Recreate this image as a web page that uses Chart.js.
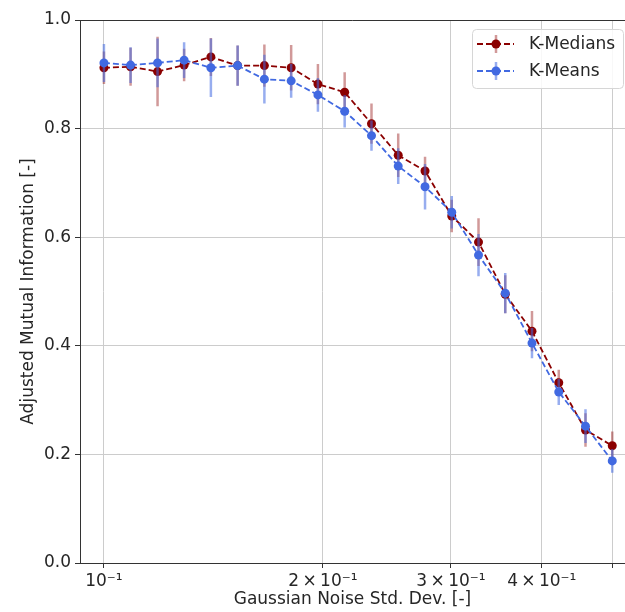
<!DOCTYPE html>
<html>
<head>
<meta charset="utf-8">
<script src="https://cdn.jsdelivr.net/npm/chart.js@4.4.1/dist/chart.umd.min.js"></script>
<style>
  html, body { margin: 0; padding: 0; background: #fff; overflow: hidden; }
</style>
</head>
<body>
<canvas id="amiChart" width="625" height="612"></canvas>
<script>
const noiseStd = [0.1, 0.1088, 0.1185, 0.1289, 0.1403, 0.1527, 0.1662, 0.1809, 0.1969, 0.2143,
                  0.2333, 0.2539, 0.2764, 0.3008, 0.3274, 0.3563, 0.3878, 0.4221, 0.4594, 0.5];

const medianAmi = [0.912, 0.914, 0.905, 0.917, 0.932, 0.916, 0.916, 0.912, 0.882, 0.867,
                   0.809, 0.751, 0.722, 0.639, 0.591, 0.495, 0.427, 0.332, 0.245, 0.216];
const medianErr = [0.03, 0.035, 0.064, 0.03, 0.035, 0.037, 0.039, 0.042, 0.037, 0.037,
                   0.037, 0.04, 0.026, 0.03, 0.044, 0.035, 0.037, 0.024, 0.031, 0.026];

const meansAmi = [0.921, 0.917, 0.921, 0.926, 0.912, 0.916, 0.891, 0.888, 0.862, 0.832,
                  0.787, 0.731, 0.693, 0.646, 0.567, 0.497, 0.405, 0.315, 0.252, 0.188];
const meansErr = [0.035, 0.033, 0.045, 0.033, 0.054, 0.037, 0.045, 0.031, 0.031, 0.03,
                  0.028, 0.033, 0.042, 0.03, 0.039, 0.037, 0.028, 0.024, 0.031, 0.022];

const xTickValues = [0.1, 0.2, 0.3, 0.4, 0.5];
const xTickLabels = ['10⁻¹', '2\u2009×\u200910⁻¹', '3\u2009×\u200910⁻¹', '4\u2009×\u200910⁻¹', ''];

const RED = '#8b0000';
const BLUE = '#4169e1';

Chart.defaults.font.family = "'DejaVu Sans', sans-serif";
Chart.defaults.font.size = 17;
Chart.defaults.color = '#262626';

// error bars drawn just before their own series, like matplotlib's errorbar()
const errorBars = {
  id: 'errorBars',
  beforeDatasetDraw(chart, args) {
    const ds = chart.data.datasets[args.index];
    if (!ds.errors) return;
    const { ctx, chartArea, scales: { x, y } } = chart;
    ctx.save();
    ctx.beginPath();
    ctx.rect(chartArea.left, chartArea.top, chartArea.right - chartArea.left, chartArea.bottom - chartArea.top);
    ctx.clip();
    ctx.strokeStyle = ds.errorColor;
    ctx.lineWidth = 2.5;
    ctx.beginPath();
    ds.data.forEach((p, i) => {
      const px = x.getPixelForValue(p.x);
      ctx.moveTo(px, y.getPixelForValue(p.y - ds.errors[i]));
      ctx.lineTo(px, y.getPixelForValue(p.y + ds.errors[i]));
    });
    ctx.stroke();
    ctx.restore();
  }
};

const frameAndLegend = {
  id: 'frameAndLegend',
  afterDraw(chart) {
    const { ctx, chartArea } = chart;
    ctx.save();
    // top spine (right spine falls outside the picture)
    ctx.strokeStyle = '#333';
    ctx.lineWidth = 1;
    ctx.beginPath();
    ctx.moveTo(chartArea.left, chartArea.top + 0.5);
    ctx.lineTo(chartArea.right, chartArea.top + 0.5);
    ctx.stroke();

    // legend box
    const bx = 472, by = 29, bw = 151, bh = 59, r = 4;
    ctx.beginPath();
    ctx.roundRect(bx + 0.5, by + 0.5, bw, bh, r);
    ctx.fillStyle = 'rgba(255,255,255,0.85)';
    ctx.fill();
    ctx.strokeStyle = '#d6d6d6';
    ctx.stroke();

    const entries = [
      { label: 'K-Medians', color: RED, err: 'rgba(139,0,0,0.4)', y: 44 },
      { label: 'K-Means', color: BLUE, err: 'rgba(65,105,225,0.55)', y: 71 }
    ];
    entries.forEach(e => {
      ctx.strokeStyle = e.err;
      ctx.lineWidth = 2.5;
      ctx.setLineDash([]);
      ctx.beginPath();
      ctx.moveTo(496, e.y - 9);
      ctx.lineTo(496, e.y + 9);
      ctx.stroke();
      ctx.strokeStyle = e.color;
      ctx.lineWidth = 1.8;
      ctx.setLineDash([6, 3]);
      ctx.beginPath();
      ctx.moveTo(477, e.y);
      ctx.lineTo(514, e.y);
      ctx.stroke();
      ctx.setLineDash([]);
      ctx.fillStyle = e.color;
      ctx.beginPath();
      ctx.arc(496, e.y, 4.5, 0, Math.PI * 2);
      ctx.fill();
      ctx.fillStyle = '#262626';
      ctx.font = "17px 'DejaVu Sans', sans-serif";
      ctx.textBaseline = 'middle';
      ctx.fillText(e.label, 529, e.y + 1);
    });
    ctx.restore();
  }
};

const ctx = document.getElementById('amiChart').getContext('2d');

new Chart(ctx, {
  type: 'line',
  data: {
    datasets: [
      {
        label: 'K-Medians',
        data: noiseStd.map((x, i) => ({ x: x, y: medianAmi[i] })),
        errors: medianErr,
        errorColor: 'rgba(139,0,0,0.4)',
        borderColor: RED,
        backgroundColor: RED,
        borderWidth: 1.8,
        borderDash: [6, 3],
        pointRadius: 4.5,
        pointBorderWidth: 0,
        pointBackgroundColor: RED,
        tension: 0,
        fill: false,
        order: 1
      },
      {
        label: 'K-Means',
        data: noiseStd.map((x, i) => ({ x: x, y: meansAmi[i] })),
        errors: meansErr,
        errorColor: 'rgba(65,105,225,0.55)',
        borderColor: BLUE,
        backgroundColor: BLUE,
        borderWidth: 1.8,
        borderDash: [6, 3],
        pointRadius: 4.5,
        pointBorderWidth: 0,
        pointBackgroundColor: BLUE,
        tension: 0,
        fill: false,
        order: 0
      }
    ]
  },
  options: {
    responsive: false,
    animation: false,
    devicePixelRatio: 1,
    layout: { autoPadding: false, padding: { top: 20, right: 0, left: 0, bottom: 0 } },
    plugins: {
      legend: { display: false },
      tooltip: { enabled: false }
    },
    scales: {
      x: {
        type: 'logarithmic',
        min: 0.0927,
        max: 0.5206,
        afterFit: s => { s.height = 49; s.paddingRight = 0; s.paddingLeft = 0; },
        afterBuildTicks: s => { s.ticks = xTickValues.map(v => ({ value: v })); },
        ticks: {
          autoSkip: false,
          maxRotation: 0,
          padding: 3,
          callback: (v, i) => xTickLabels[i]
        },
        grid: { color: '#cccccc', lineWidth: 1, tickLength: 5, tickColor: '#333' },
        border: { color: '#333' },
        title: {
          display: true,
          text: 'Gaussian Noise Std. Dev. [-]',
          padding: { top: 0, bottom: 2 }
        }
      },
      y: {
        min: 0,
        max: 1,
        afterFit: s => { s.width = 80; s.paddingTop = 0; s.paddingBottom = 0; },
        ticks: {
          stepSize: 0.2,
          padding: 4,
          callback: v => v.toFixed(1)
        },
        grid: { color: '#cccccc', lineWidth: 1, tickLength: 5, tickColor: '#333' },
        border: { color: '#333' },
        title: {
          display: true,
          text: 'Adjusted Mutual Information [-]',
          padding: { top: 18, bottom: 0 }
        }
      }
    }
  },
  plugins: [errorBars, frameAndLegend]
});
</script>
</body>
</html>
